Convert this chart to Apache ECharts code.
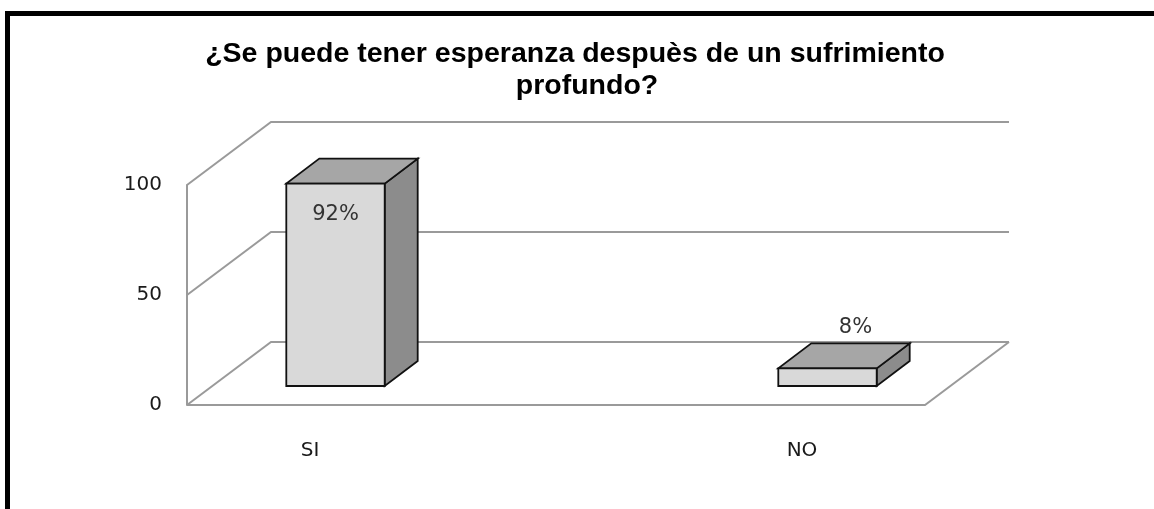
<!DOCTYPE html>
<html>
<head>
<meta charset="utf-8">
<script src="https://cdn.jsdelivr.net/npm/echarts@6/dist/echarts.min.js"></script>
<style>
html,body{margin:0;padding:0;background:#fff;}
#chart{width:1154px;height:509px;}
</style>
</head>
<body>
<div id="chart"></div>
<script>
const titleLines = ['¿Se puede tener esperanza despuès de un sufrimiento', 'profundo?'];
const categories = ['SI', 'NO'];
const values = [92, 8];
const valueLabels = ['92%', '8%'];
const yTicks = [0, 50, 100];

// 3D look (pixels)
const WALL_LEFT = 187, WALL_RIGHT_FRONT = 925, WALL_DX = 84, WALL_DY = -63;
const BAR_SHIFT_X = 25.5, BAR_SHIFT_Y = -19, BAR_DX = 33, BAR_DY = -25;
const gridColor = '#9a9a9a';
const labelFont = '"DejaVu Sans", sans-serif';
const titleStyle = { fontFamily: '"Liberation Sans", Arial, sans-serif', fontWeight: 'bold', fontSize: 28.5, color: '#000' };

const chart = echarts.init(document.getElementById('chart'));

function wallItem(params, api) {
  const v = api.value(1);
  const y = api.coord([0, v])[1];
  const children = [{
    type: 'polyline',
    shape: { points: [[WALL_LEFT, y], [WALL_LEFT + WALL_DX, y + WALL_DY], [WALL_RIGHT_FRONT + WALL_DX, y + WALL_DY]] },
    style: { stroke: gridColor, lineWidth: 2, fill: null }
  }];
  if (v === 0) {
    children.push({
      type: 'polyline',
      shape: { points: [[WALL_LEFT, y], [WALL_RIGHT_FRONT, y], [WALL_RIGHT_FRONT + WALL_DX, y + WALL_DY]] },
      style: { stroke: gridColor, lineWidth: 2, fill: null }
    });
  }
  return { type: 'group', children };
}

function barItem(params, api) {
  const idx = api.value(0);
  const v = api.value(1);
  const base = api.coord([idx, 0]);
  const top = api.coord([idx, v]);
  const w = api.size([1, 0])[0] * 0.2;
  const xl = base[0] + BAR_SHIFT_X - w / 2, xr = xl + w;
  const yb = base[1] + BAR_SHIFT_Y, yt = top[1] + BAR_SHIFT_Y;
  const stroke = { stroke: '#111', lineWidth: 1.8, lineJoin: 'miter' };
  const lbl = valueLabels[params.dataIndex];
  const inside = v >= 50;
  const lx = inside ? (xl + w / 2) : (xl + w / 2 + 28);
  const ly = inside ? (yt + 31) : (yt + BAR_DY - 16);
  return {
    type: 'group',
    children: [
      { type: 'polygon', shape: { points: [[xr, yt], [xr + BAR_DX, yt + BAR_DY], [xr + BAR_DX, yb + BAR_DY], [xr, yb]] },
        style: Object.assign({ fill: '#8c8c8c' }, stroke) },
      { type: 'polygon', shape: { points: [[xl, yt], [xr, yt], [xr + BAR_DX, yt + BAR_DY], [xl + BAR_DX, yt + BAR_DY]] },
        style: Object.assign({ fill: '#a6a6a6' }, stroke) },
      { type: 'rect', shape: { x: xl, y: yt, width: w, height: yb - yt },
        style: Object.assign({ fill: '#d9d9d9' }, stroke) },
      { type: 'text', x: lx, y: ly,
        style: { text: lbl, fill: '#333', font: '21px ' + labelFont, align: 'center', verticalAlign: 'middle' } }
    ]
  };
}

chart.setOption({
  backgroundColor: '#ffffff',
  animation: false,
  title: [
    { text: titleLines[0], left: 575, top: 40, textAlign: 'center', padding: 0, textStyle: titleStyle },
    { text: titleLines[1], left: 587, top: 72, textAlign: 'center', padding: 0, textStyle: titleStyle }
  ],
  graphic: [
    { type: 'rect', silent: true, shape: { x: 7.5, y: 13.5, width: 1170, height: 530 },
      style: { fill: null, stroke: '#000', lineWidth: 5 } }
  ],
  grid: { left: 64, width: 984, top: 185, height: 220, containLabel: false },
  xAxis: {
    type: 'category',
    data: categories,
    boundaryGap: true,
    axisLine: { show: false },
    axisTick: { show: false },
    axisLabel: { margin: 36, fontSize: 20, fontFamily: labelFont, color: '#1a1a1a' }
  },
  yAxis: {
    type: 'value',
    min: 0, max: 100, interval: 50,
    offset: -123,
    axisLine: { show: true, lineStyle: { color: gridColor, width: 2 } },
    axisTick: { show: false },
    splitLine: { show: false },
    axisLabel: { margin: 25, fontSize: 20, fontFamily: labelFont, color: '#1a1a1a', padding: [6, 0, 0, 0] }
  },
  series: [
    { type: 'custom', renderItem: wallItem, data: yTicks.map(t => [0, t]), silent: true, z: 1 },
    { type: 'custom', renderItem: barItem, data: values.map((v, i) => [i, v]), z: 2 }
  ]
});
</script>
</body>
</html>
